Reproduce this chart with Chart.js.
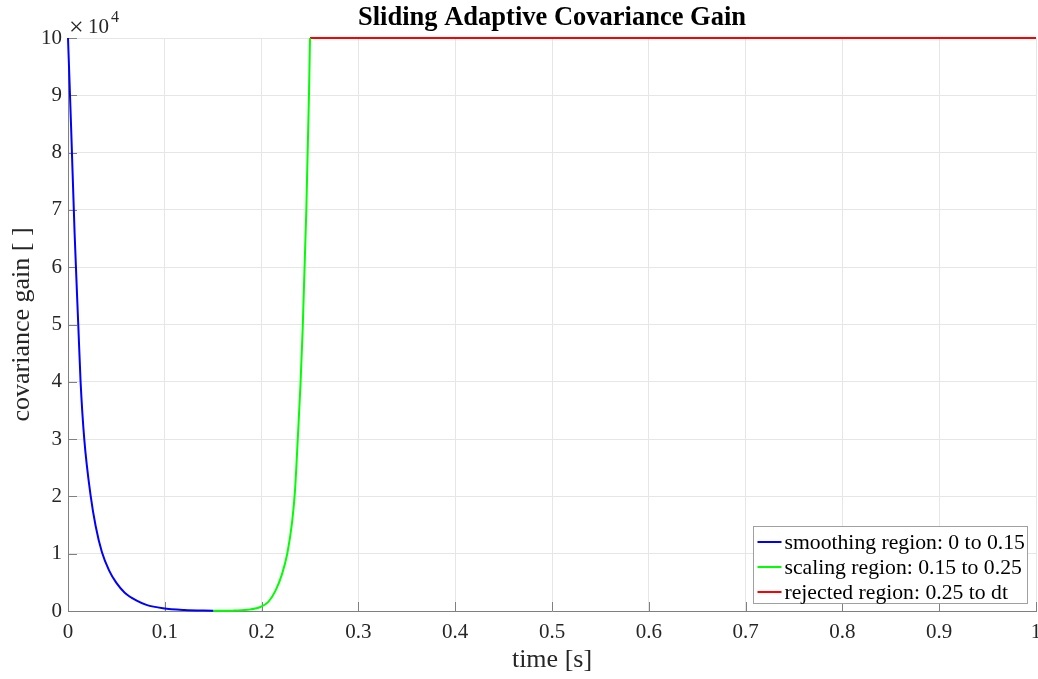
<!DOCTYPE html>
<html>
<head>
<meta charset="utf-8">
<script src="https://cdn.jsdelivr.net/npm/chart.js@4"></script>
<style>
  html, body { margin: 0; padding: 0; background: #ffffff; }
  #wrap { width: 1038px; height: 679px; position: relative; }
</style>
</head>
<body>
<div id="wrap"><canvas id="gainChart"></canvas></div>
<script>
// ---- text ----
const chartTitle = 'Sliding Adaptive Covariance Gain';
const xTitle = 'time [s]';
const yTitle = 'covariance gain [ ]';
const seriesLabels = [
  'smoothing region: 0 to 0.15',
  'scaling region: 0.15 to 0.25',
  'rejected region: 0.25 to dt'
];
const seriesColors = ['#0000ff', '#00ff00', '#ff0000'];

// ---- data: time [s] and covariance gain ----
const smoothingTime = [0, 0.0033, 0.0068, 0.0106, 0.013, 0.0168, 0.0235, 0.0286, 0.035, 0.0424, 0.05, 0.0586, 0.071, 0.081, 0.098, 0.12, 0.15];
const smoothingGain = [100000, 84000, 66000, 50000, 40000, 30000, 20000, 14800, 10300, 7100, 4900, 3200, 1800, 1070, 480, 170, 30];

const scalingTime = [0.15, 0.17, 0.185, 0.198, 0.207, 0.2145, 0.221, 0.2265, 0.2315, 0.2345, 0.2375, 0.2403, 0.2425, 0.2462, 0.249, 0.25];
const scalingGain = [30, 60, 200, 650, 1600, 3600, 6400, 10000, 15500, 21000, 30500, 40000, 49500, 70000, 90500, 100000];

const rejectedTime = [0.25, 1];
const rejectedGain = [100000, 100000];

// ---- axes ----
const xTicks = [0, 0.1, 0.2, 0.3, 0.4, 0.5, 0.6, 0.7, 0.8, 0.9, 1];
const yTicks = [0, 10000, 20000, 30000, 40000, 50000, 60000, 70000, 80000, 90000, 100000];
const yExponent = 4;

const FONT = "'Liberation Serif', 'Times New Roman', serif";
const TEXT_COLOR = '#262626';
const AXIS_COLOR = '#808080';
const GRID_COLOR = '#e6e6e6';

function toPoints(ts, vs) { return ts.map((t, i) => ({ x: t, y: vs[i] })); }

const seriesData = [
  toPoints(smoothingTime, smoothingGain),
  toPoints(scalingTime, scalingGain),
  toPoints(rejectedTime, rejectedGain)
];

// Title, inward tick marks, exponent label and the boxed legend
const decorations = {
  id: 'decorations',
  beforeDatasetsDraw(chart) {
    const { ctx, chartArea: a, scales: { x, y } } = chart;
    ctx.save();
    ctx.strokeStyle = AXIS_COLOR;
    ctx.lineWidth = 1;
    ctx.beginPath();
    xTicks.forEach(v => {
      const px = Math.round(x.getPixelForValue(v)) + 0.5;
      ctx.moveTo(px, a.bottom);
      ctx.lineTo(px, a.bottom - 9);
    });
    yTicks.forEach(v => {
      const py = Math.round(y.getPixelForValue(v)) + 0.5;
      ctx.moveTo(a.left, py);
      ctx.lineTo(a.left + 9, py);
    });
    ctx.stroke();
    ctx.restore();
  },
  afterDraw(chart) {
    const { ctx, chartArea: a } = chart;
    ctx.save();

    // title
    ctx.fillStyle = '#000000';
    ctx.font = 'bold 26.5px ' + FONT;
    ctx.textAlign = 'center';
    ctx.textBaseline = 'middle';
    ctx.fillText(chartTitle, (a.left + a.right) / 2, 18);

    // exponent label above the y axis
    ctx.fillStyle = TEXT_COLOR;
    ctx.textAlign = 'left';
    ctx.textBaseline = 'alphabetic';
    ctx.font = '26px ' + FONT;
    ctx.fillText('\u00d7', a.left + 1, a.top - 3);
    ctx.font = '21px ' + FONT;
    ctx.fillText('10', a.left + 20, a.top - 5);
    ctx.font = '16px ' + FONT;
    ctx.fillText(String(yExponent), a.left + 43, a.top - 16);

    // legend
    ctx.font = '21.7px ' + FONT;
    const maxW = Math.max(...seriesLabels.map(s => ctx.measureText(s).width));
    const rowH = 25;
    const boxW = Math.round(31 + maxW + 3);
    const boxH = 77;
    const right = a.right - 9;
    const bottom = a.bottom - 8;
    const left = Math.round(right - boxW) + 0.5;
    const top = Math.round(bottom - boxH) + 0.5;
    ctx.fillStyle = '#ffffff';
    ctx.fillRect(left, top, boxW, boxH);
    ctx.strokeStyle = '#a0a0a0';
    ctx.lineWidth = 1;
    ctx.strokeRect(left, top, boxW, boxH);
    ctx.textBaseline = 'middle';
    seriesLabels.forEach((label, i) => {
      const cy = top + 15.5 + i * rowH;
      ctx.strokeStyle = seriesColors[i];
      ctx.lineWidth = 2;
      ctx.beginPath();
      ctx.moveTo(left + 4, cy);
      ctx.lineTo(left + 28, cy);
      ctx.stroke();
      ctx.fillStyle = '#000000';
      ctx.fillText(label, left + 31, cy + 1);
    });
    ctx.restore();
  }
};

new Chart(document.getElementById('gainChart'), {
  type: 'line',
  data: {
    datasets: seriesData.map((pts, i) => ({
      label: seriesLabels[i],
      data: pts,
      borderColor: seriesColors[i],
      backgroundColor: seriesColors[i],
      borderWidth: 2,
      pointRadius: 0,
      fill: false,
      clip: 4,
      cubicInterpolationMode: 'monotone'
    }))
  },
  options: {
    responsive: true,
    maintainAspectRatio: false,
    animation: false,
    parsing: false,
    layout: { padding: { top: 38, right: 2, left: 0, bottom: 0 } },
    plugins: {
      legend: { display: false },
      title: { display: false },
      tooltip: { enabled: false }
    },
    scales: {
      x: {
        type: 'linear',
        min: 0,
        max: 1,
        afterBuildTicks: s => { s.ticks = xTicks.map(v => ({ value: v })); },
        afterFit: s => { s.height = 68; s.paddingLeft = 0; s.paddingRight = 0; },
        grid: { color: GRID_COLOR, drawTicks: false },
        border: { color: AXIS_COLOR, width: 1 },
        ticks: {
          padding: 9,
          maxRotation: 0,
          autoSkip: false,
          color: TEXT_COLOR,
          font: { family: FONT, size: 21 },
          callback: v => String(Math.round(v * 10) / 10)
        },
        title: {
          display: true,
          text: xTitle,
          color: TEXT_COLOR,
          font: { family: FONT, size: 26 },
          padding: { top: 0, bottom: 3 }
        }
      },
      y: {
        type: 'linear',
        min: 0,
        max: 100000,
        afterBuildTicks: s => { s.ticks = yTicks.map(v => ({ value: v })); },
        afterFit: s => { s.width = 68; },
        grid: { color: GRID_COLOR, drawTicks: false },
        border: { color: AXIS_COLOR, width: 1 },
        ticks: {
          padding: 6,
          autoSkip: false,
          color: TEXT_COLOR,
          font: { family: FONT, size: 21 },
          callback: v => String(Math.round(v / Math.pow(10, yExponent)))
        },
        title: {
          display: true,
          text: yTitle,
          color: TEXT_COLOR,
          font: { family: FONT, size: 26 },
          padding: { top: 7, bottom: 0 }
        }
      }
    }
  },
  plugins: [decorations]
});
</script>
</body>
</html>
